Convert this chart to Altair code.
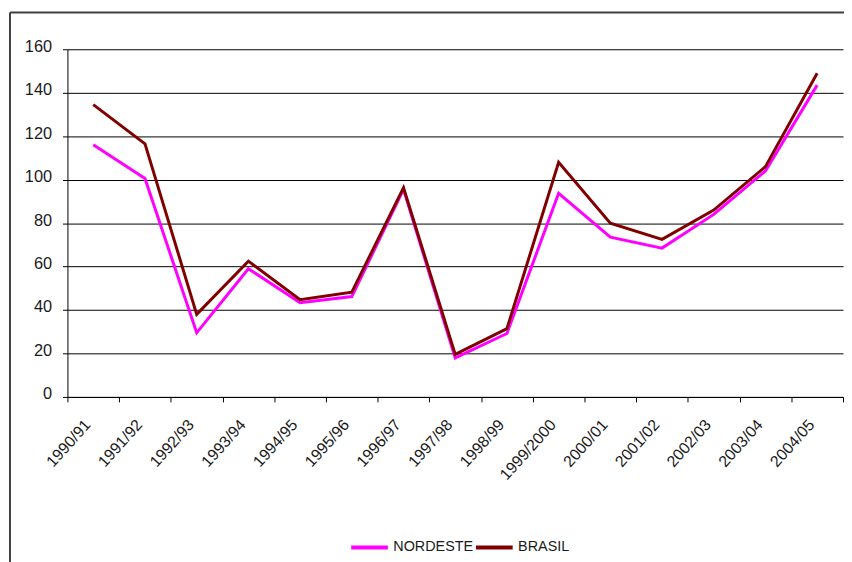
import altair as alt
import pandas as pd

categories = ["1990/91", "1991/92", "1992/93", "1993/94", "1994/95", "1995/96",
              "1996/97", "1997/98", "1998/99", "1999/2000", "2000/01", "2001/02",
              "2002/03", "2003/04", "2004/05"]
nordeste = [116, 100.5, 29.5, 59, 43.4, 46.2, 95.5, 18, 29.2, 93.7, 73.5, 68.5, 84, 104, 143.5]
brasil = [134.5, 116.5, 38, 62.5, 44.7, 48.2, 96.3, 19.6, 31.4, 108, 80, 72.5, 86, 106, 149]
series_names = ["NORDESTE", "BRASIL"]
series_colors = ["#FF00FF", "#800000"]

rows = []
for i, c in enumerate(categories):
    rows.append({"ano": c, "serie": "NORDESTE", "valor": nordeste[i]})
    rows.append({"ano": c, "serie": "BRASIL", "valor": brasil[i]})
df = pd.DataFrame(rows)

FONT = "Liberation Sans"

lines = alt.Chart(df).mark_line(strokeWidth=3).encode(
    x=alt.X("ano:N", sort=categories, title=None,
            scale=alt.Scale(paddingInner=0, paddingOuter=0),
            axis=alt.Axis(labelAngle=312, labelFontSize=16, labelFont=FONT,
                          labelColor="#1a1a1a", tickBand="extent", tickSize=5,
                          tickColor="#000000", domainColor="#000000",
                          labelPadding=20, labelOffset=-6, grid=False)),
    y=alt.Y("valor:Q", title=None,
            scale=alt.Scale(domain=[0, 160], nice=False),
            axis=alt.Axis(values=[0, 20, 40, 60, 80, 100, 120, 140, 160],
                          labelFontSize=16.5, labelFont=FONT, labelColor="#1a1a1a",
                          tickSize=5, tickColor="#000000", domainColor="#000000",
                          gridColor="#000000", gridOpacity=1, labelPadding=11,
                          labelOffset=-3)),
    color=alt.Color("serie:N", sort=series_names,
                    scale=alt.Scale(domain=series_names, range=series_colors),
                    legend=alt.Legend(title=None, orient="none", direction="horizontal",
                                      legendX=284, legendY=482,
                                      symbolType="stroke", symbolSize=1370,
                                      symbolStrokeWidth=4, labelFontSize=14.5,
                                      labelFont=FONT, labelColor="#1a1a1a",
                                      labelOffset=3, columnPadding=-6)),
    order=alt.Order("serie:N", sort="descending"),
)

frame_df = pd.DataFrame({"k": [0]})
left_border = alt.Chart(frame_df).mark_rule(color="#404040", strokeWidth=2).encode(
    x=alt.value(-58), y=alt.value(-37), y2=alt.value(530))
top_border = alt.Chart(frame_df).mark_rule(color="#404040", strokeWidth=2).encode(
    x=alt.value(-58), x2=alt.value(800), y=alt.value(-37))

chart = alt.layer(left_border, top_border, lines).properties(
    width=783, height=351,
    padding={"left": 60, "top": 39, "right": 1, "bottom": 164},
    autosize=alt.AutoSizeParams(type="none"),
).configure_view(stroke=None)

chart.save("out.html", embed_options={"renderer": "svg", "actions": False})
